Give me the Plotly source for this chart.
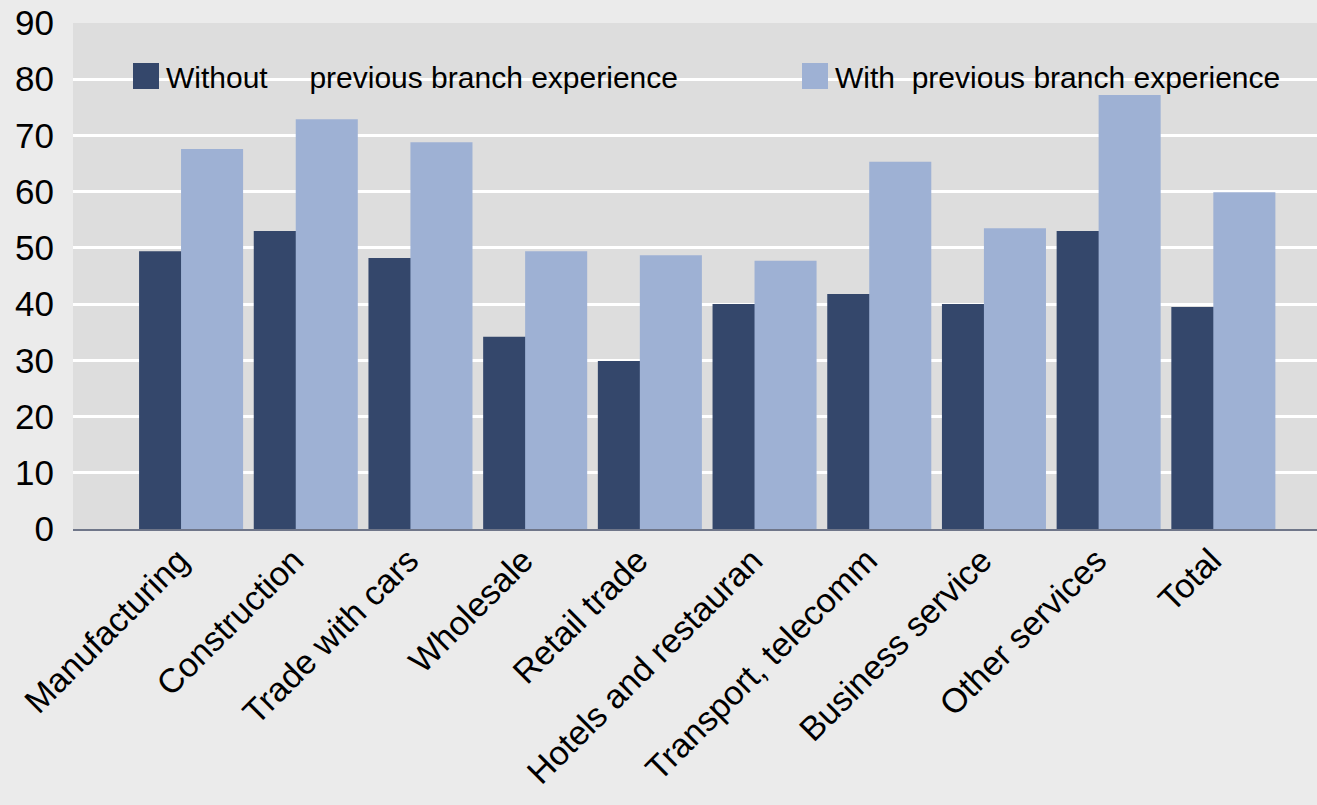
import plotly.graph_objects as go

categories = ["Manufacturing", "Construction", "Trade with cars", "Wholesale", "Retail trade",
              "Hotels and restauran", "Transport, telecomm", "Business service", "Other services", "Total"]
without_prev = [49.4, 53.0, 48.2, 34.2, 29.9, 40.0, 41.8, 40.0, 53.0, 39.5]
with_prev = [67.6, 72.9, 68.8, 49.4, 48.7, 47.7, 65.3, 53.5, 77.2, 59.9]
series_names = ["Without\u00a0\u00a0\u00a0\u00a0 previous branch experience",
                "With\u00a0 previous branch experience"]
y_ticks = [0, 10, 20, 30, 40, 50, 60, 70, 80, 90]

DARK = "#34476b"
LIGHT = "#9eb1d4"
FONT = "Liberation Sans, Arial, sans-serif"

fig = go.Figure()
fig.add_trace(go.Bar(x=categories, y=without_prev, name=series_names[0],
                     marker=dict(color=DARK, line=dict(width=0)),
                     width=0.541, offset=-0.453, showlegend=False))
fig.add_trace(go.Bar(x=categories, y=with_prev, name=series_names[1],
                     marker=dict(color=LIGHT, line=dict(width=0)),
                     width=0.541, offset=-0.087, showlegend=False))

# legend drawn as squares + text (paper coordinates)
W, H = 1317, 805
L, R, T, B = 73, 0, 23, 276
pw, ph = W - L - R, H - T - B

def px_x(p):
    return (p - L) / pw

def px_y(p):
    return (H - B - p) / ph

for (x0, color, name) in [(133, DARK, series_names[0]), (802, LIGHT, series_names[1])]:
    fig.add_shape(type="rect", xref="paper", yref="paper",
                  x0=px_x(x0), x1=px_x(x0 + 26), y0=px_y(89), y1=px_y(63),
                  fillcolor=color, line=dict(width=0), layer="above")
    fig.add_annotation(xref="paper", yref="paper", x=px_x(x0 + 31), y=px_y(77),
                       xanchor="left", yanchor="middle", showarrow=False,
                       text=name, font=dict(family=FONT, size=30, color="black"))

fig.update_layout(
    width=W, height=H,
    margin=dict(l=L, r=R, t=T, b=B, pad=0, autoexpand=False),
    barmode="overlay",
    paper_bgcolor="#ebebeb",
    plot_bgcolor="#dddddd",
    font=dict(family=FONT, size=33, color="black"),
    showlegend=False,
)
fig.update_xaxes(type="category", range=[-1.029, 9.817], showgrid=False,
                 showline=True, linecolor="#6f7689", linewidth=2,
                 tickangle=-45, ticks="", tickfont=dict(size=34),
                 ticklabelshift=-12, ticklabelstandoff=-4, automargin=False)
fig.update_yaxes(range=[0, 90], tickvals=y_ticks, showgrid=True, gridcolor="white",
                 gridwidth=3, zeroline=False, ticks="", ticklabelstandoff=18,
                 tickfont=dict(size=35), automargin=False)

fig.write_html(
    "out.html",
    config={"responsive": False, "displayModeBar": False},
    post_script="document.body.style.margin='0';document.body.style.overflow='hidden';"
                "Plotly.relayout('{plot_id}', {width: 1317, height: 805});",
)
